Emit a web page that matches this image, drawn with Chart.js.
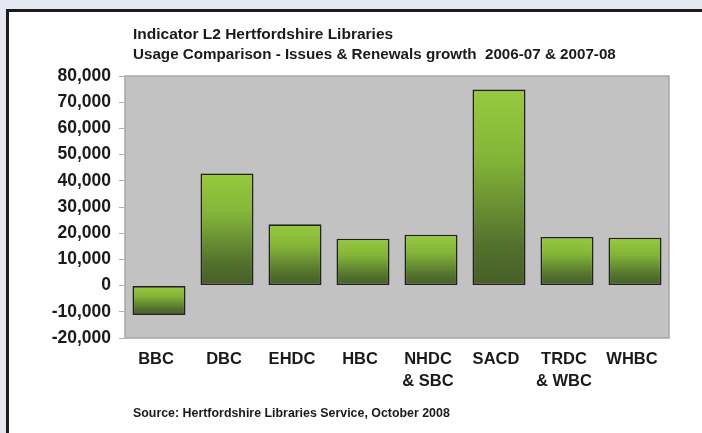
<!DOCTYPE html>
<html>
<head>
<meta charset="utf-8">
<script src="https://cdn.jsdelivr.net/npm/chart.js@4.4.1/dist/chart.umd.min.js"></script>
<style>
  html, body { margin: 0; padding: 0; }
  body { width: 702px; height: 433px; background: #e4e7f1; overflow: hidden; position: relative; }
  #panel { position: absolute; left: 6px; top: 9px; width: 740px; height: 480px; background: #fff; border: 3px solid #1c1c1c; }
  #wrap { position: absolute; left: 0; top: 0; width: 702px; height: 433px; }
</style>
</head>
<body>
<div id="panel"></div>
<div id="wrap"><canvas id="chart" width="702" height="433"></canvas></div>
<script>
const categories = [["BBC"], ["DBC"], ["EHDC"], ["HBC"], ["NHDC", "& SBC"], ["SACD"], ["TRDC", "& WBC"], ["WHBC"]];
const growth = [-11200, 42800, 23400, 17900, 19400, 74800, 18550, 18300];
const yMin = -20000;
const yMax = 80000;
const yStep = 10000;

const titleText = "Indicator L2 Hertfordshire Libraries";
const subtitleText = "Usage Comparison - Issues & Renewals growth  2006-07 & 2007-08";
const sourceText = "Source: Hertfordshire Libraries Service, October 2008";

const FONT = '"Liberation Sans", Arial, Helvetica, sans-serif';
const INK = '#1a1a1a';

// light green at the top of each bar fading to dark olive at its foot
function barFill(context) {
  const chart = context.chart;
  if (!chart.chartArea) return '#7fb038';
  const y = chart.scales.y;
  const v = context.raw;
  const top = y.getPixelForValue(Math.max(v, 0));
  const bottom = y.getPixelForValue(Math.min(v, 0));
  const g = chart.ctx.createLinearGradient(0, top, 0, bottom + 0.1);
  g.addColorStop(0, '#97ca3e');
  g.addColorStop(0.35, '#84b538');
  g.addColorStop(0.8, '#52702d');
  g.addColorStop(1, '#475e26');
  return g;
}

const backdrop = {
  id: 'backdrop',
  beforeDraw(chart) {
    const { ctx, chartArea: a } = chart;
    ctx.save();
    ctx.fillStyle = '#c2c2c2';
    ctx.fillRect(a.left, a.top, a.right - a.left, a.bottom - a.top);
    ctx.strokeStyle = '#a6a6a6';
    ctx.lineWidth = 1.5;
    ctx.strokeRect(a.left, a.top, a.right - a.left, a.bottom - a.top);
    ctx.restore();
  },
  afterDraw(chart) {
    const ctx = chart.ctx;
    ctx.save();
    ctx.fillStyle = INK;
    ctx.textAlign = 'left';
    ctx.textBaseline = 'alphabetic';
    ctx.font = 'bold 15.5px ' + FONT;
    ctx.fillText(titleText, 133, 39);
    ctx.font = 'bold 15.2px ' + FONT;
    ctx.fillText(subtitleText, 133, 59);
    ctx.font = 'bold 12.4px ' + FONT;
    ctx.fillText(sourceText, 133, 417);
    ctx.restore();
  }
};

new Chart(document.getElementById('chart'), {
  type: 'bar',
  data: {
    labels: categories,
    datasets: [{
      label: 'Growth',
      data: growth,
      backgroundColor: barFill,
      borderColor: '#222',
      borderWidth: 1.6,
      borderSkipped: false,
      categoryPercentage: 1,
      barPercentage: 0.78
    }]
  },
  options: {
    responsive: false,
    animation: false,
    layout: { padding: { top: 76, right: 33, bottom: 0, left: 0 } },
    plugins: {
      legend: { display: false },
      tooltip: { enabled: false }
    },
    scales: {
      x: {
        border: { display: false },
        grid: { display: false, drawTicks: false },
        ticks: {
          color: INK,
          padding: 10,
          labelOffset: -3,
          font: { family: FONT, size: 16.5, weight: 'bold', lineHeight: 1.35 },
          maxRotation: 0,
          autoSkip: false
        },
        afterFit(scale) { scale.height = 95; }
      },
      y: {
        min: yMin,
        max: yMax,
        border: { display: false },
        grid: { drawOnChartArea: false, tickLength: 6, color: '#b0b0b0' },
        ticks: {
          stepSize: yStep,
          color: INK,
          padding: 8,
          font: { family: FONT, size: 17.5, weight: 'bold' },
          callback: v => v.toLocaleString('en-US')
        },
        afterFit(scale) { scale.width = 125; }
      }
    }
  },
  plugins: [backdrop]
});
</script>
</body>
</html>
